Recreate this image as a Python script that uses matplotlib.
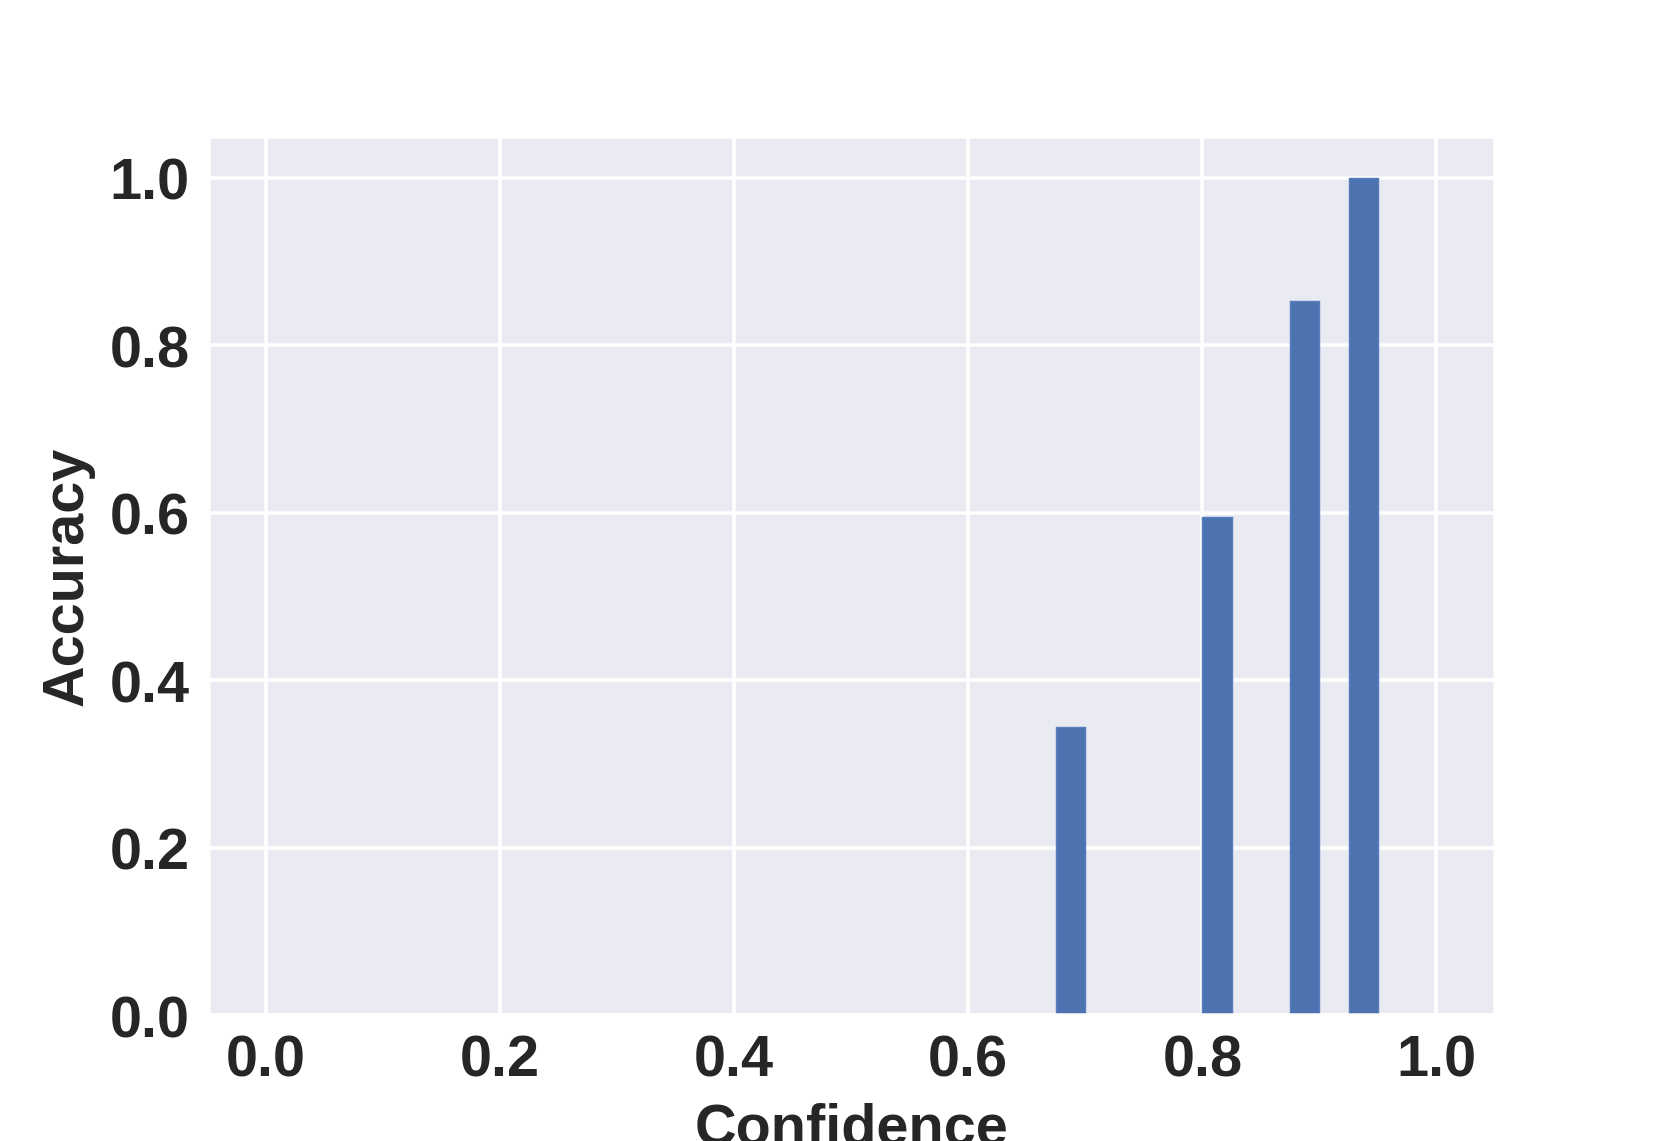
import matplotlib
matplotlib.use("Agg")
import matplotlib.pyplot as plt
import seaborn as sns
import numpy as np

sns.set_theme(style="darkgrid")
plt.rcParams['font.family'] = ['Liberation Sans', 'DejaVu Sans']

bin_left = [0.675, 0.800, 0.875, 0.925]
accuracy = [0.344, 0.595, 0.853, 1.0]
bar_width = 0.025

fig = plt.figure(figsize=(6.4, 4.4), dpi=259.53)
ax = fig.add_subplot(111)
ax.bar(bin_left, accuracy, width=bar_width, align='edge', color='#4C72B0',
       edgecolor='#5A7FBF', linewidth=0.4)
ax.set_xlim(-0.05, 1.05)
ax.set_ylim(0, 1.05)
ax.set_xticks([0.0, 0.2, 0.4, 0.6, 0.8, 1.0])
ax.set_yticks([0.0, 0.2, 0.4, 0.6, 0.8, 1.0])
ax.tick_params(axis='both', length=0, pad=5)
for lab in ax.get_xticklabels() + ax.get_yticklabels():
    lab.set_fontweight('bold')
    lab.set_fontsize(16)
ax.set_xlabel('Confidence', fontsize=16, fontweight='bold', labelpad=4)
ax.set_ylabel('Accuracy', fontsize=16, fontweight='bold', labelpad=4)
fig.savefig('out.png', dpi=259.53)
